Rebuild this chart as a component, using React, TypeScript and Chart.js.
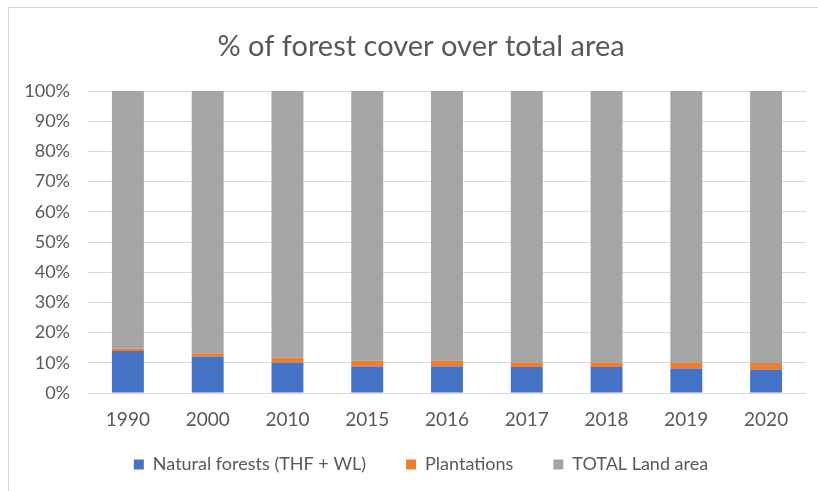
import React, { useEffect, useRef } from "react";
import { Chart, registerables } from "chart.js";

Chart.register(...registerables);

const years = ["1990", "2000", "2010", "2015", "2016", "2017", "2018", "2019", "2020"];
const naturalForests = [13.9, 12.1, 10.0, 8.8, 8.8, 8.6, 8.6, 8.1, 7.7];
const plantations = [0.8, 1.1, 1.7, 1.9, 1.9, 1.5, 1.5, 2.0, 2.2];
const totalLandArea = [85.3, 86.8, 88.3, 89.3, 89.3, 89.9, 89.9, 89.9, 90.1];
const seriesNames = ["Natural forests (THF + WL)", "Plantations", "TOTAL Land area"];
const titleText = "% of forest cover over total area";

const FONT = "Lato, 'Open Sans', sans-serif";
const TEXT = "#595959";

const noLabelClip = (s: any) => {
  s._computeLabelArea = () => undefined;
};

export default function App() {
  const ref = useRef<HTMLCanvasElement | null>(null);

  useEffect(() => {
    if (!ref.current) return;
    const chart = new Chart(ref.current, {
      type: "bar",
      data: {
        labels: years,
        datasets: [
          { label: seriesNames[0], data: naturalForests, backgroundColor: "#4472C4" },
          { label: seriesNames[1], data: plantations, backgroundColor: "#ED7D31" },
          { label: seriesNames[2], data: totalLandArea, backgroundColor: "#A5A5A5" },
        ],
      },
      options: {
        responsive: false,
        animation: false,
        devicePixelRatio: 1,
        datasets: { bar: { categoryPercentage: 1, barPercentage: 0.4 } },
        layout: { padding: { left: 36, right: 12, top: 0, bottom: 7.5 } },
        plugins: {
          title: {
            display: true,
            text: titleText,
            color: TEXT,
            font: { family: FONT, size: 29, weight: "normal" },
            padding: { top: 29.6, bottom: 26.6 },
          },
          legend: {
            position: "bottom",
            labels: {
              color: TEXT,
              font: { family: FONT, size: 18 },
              boxWidth: 10,
              boxHeight: 10,
              padding: 40,
            },
          },
          tooltip: { enabled: false },
        },
        scales: {
          x: {
            stacked: true,
            grid: { display: false, drawTicks: false },
            border: { display: false },
            ticks: { color: TEXT, font: { family: FONT, size: 19 }, padding: 15 },
            afterFit: (s: any) => { s.height = 22.5; noLabelClip(s); },
          },
          y: {
            stacked: true,
            min: 0,
            max: 100,
            grid: { color: "#D9D9D9", lineWidth: 1, drawTicks: false },
            border: { display: false },
            ticks: {
              stepSize: 10,
              color: TEXT,
              font: { family: FONT, size: 18 },
              padding: 18,
              callback: (v: any) => v + "%",
            },
            afterFit: (s: any) => { s.width = 52; noLabelClip(s); },
          },
        },
      },
    } as any);
    return () => chart.destroy();
  }, []);

  return (
    <div style={{ position: "absolute", left: 0, top: 0, width: 818, height: 491, background: "#fff", overflow: "hidden" }}>
      <div
        style={{
          position: "absolute",
          left: 8,
          top: 7,
          right: 0,
          bottom: 0,
          borderTop: "1px solid #d4d4d4",
          borderLeft: "1px solid #d4d4d4",
        }}
      />
      <canvas ref={ref} width={818} height={491} style={{ position: "absolute", left: 0, top: 0, width: 818, height: 491 }} />
    </div>
  );
}
